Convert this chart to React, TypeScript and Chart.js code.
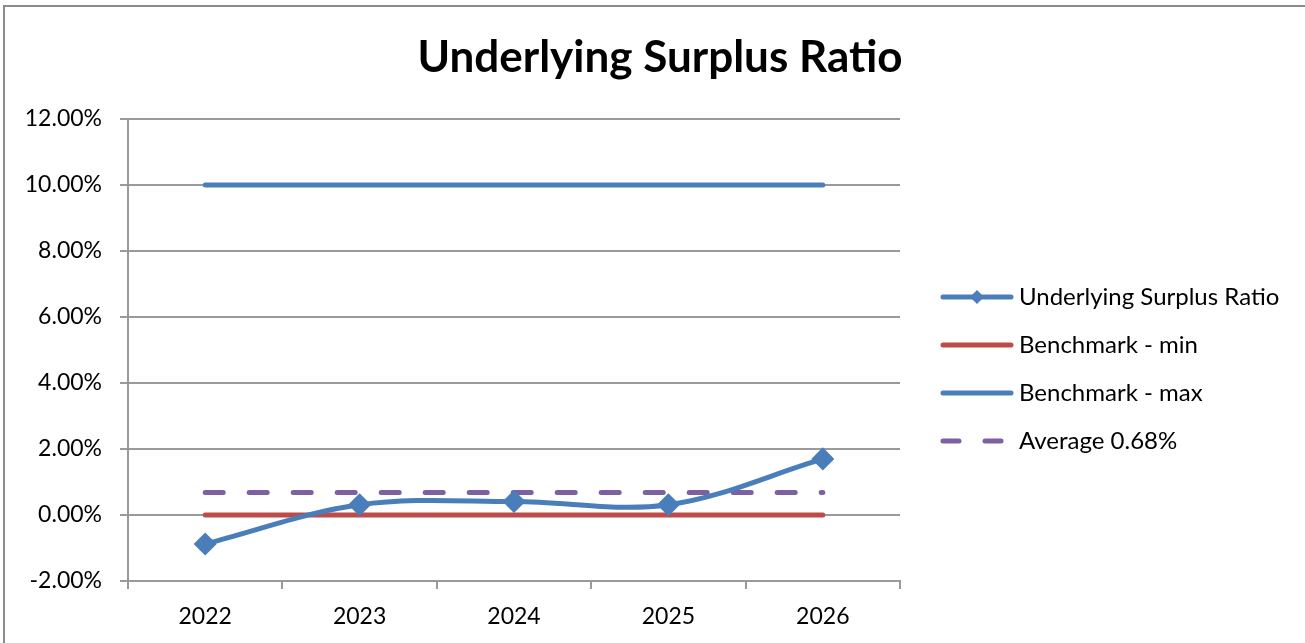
import { useEffect, useRef } from "react";
import { Chart, registerables } from "chart.js";

Chart.register(...registerables);

// Fiscal years on the category axis
const years = ["2022", "2023", "2024", "2025", "2026"];
// Underlying surplus ratio, in percent
const surplusRatio = [-0.88, 0.31, 0.41, 0.31, 1.7];
// Benchmark band, in percent
const benchmarkMin = [0, 0, 0, 0, 0];
const benchmarkMax = [10, 10, 10, 10, 10];
// Reported average, in percent
const averageValue = 0.68;
const averageLine = years.map(() => averageValue);
// Value axis range and step, in percent
const yMin = -2;
const yMax = 12;
const yStep = 2;

const FONT = "Lato, 'Liberation Sans', sans-serif";
const GRID = "#9a9a9a";

const titleText = "Underlying Surplus Ratio";

// Draws the chart title and the legend on the right side
const decorations = {
  id: "decorations",
  afterDraw(chart: any) {
    const ctx = chart.ctx as CanvasRenderingContext2D;
    ctx.save();
    ctx.fillStyle = "#000";
    ctx.font = `bold 44px ${FONT}`;
    ctx.textAlign = "center";
    ctx.textBaseline = "middle";
    ctx.fillText(titleText, 660, 58);

    const x0 = 943;
    const x1 = 1011;
    chart.data.datasets.forEach((ds: any, i: number) => {
      const y = 297 + i * 48;
      ctx.save();
      ctx.strokeStyle = ds.borderColor;
      ctx.lineWidth = 5;
      ctx.lineCap = "round";
      if (ds.borderDash && ds.borderDash.length) ctx.setLineDash([16, 26]);
      ctx.beginPath();
      ctx.moveTo(x0, y);
      ctx.lineTo(x1, y);
      ctx.stroke();
      if (ds.pointStyle === "rectRot") {
        const r = 7;
        const cx = (x0 + x1) / 2;
        ctx.fillStyle = ds.pointBackgroundColor;
        ctx.beginPath();
        ctx.moveTo(cx, y - r);
        ctx.lineTo(cx + r, y);
        ctx.lineTo(cx, y + r);
        ctx.lineTo(cx - r, y);
        ctx.closePath();
        ctx.fill();
      }
      ctx.restore();
      ctx.fillStyle = "#000";
      ctx.font = `24px ${FONT}`;
      ctx.textAlign = "left";
      ctx.textBaseline = "middle";
      ctx.fillText(ds.label, 1019, y);
    });
    ctx.restore();
  },
};

export default function App() {
  const canvasRef = useRef<HTMLCanvasElement | null>(null);

  useEffect(() => {
    if (!canvasRef.current) return;
    const chart = new Chart(canvasRef.current, {
      type: "line",
      data: {
        labels: years,
        datasets: [
          {
            label: "Underlying Surplus Ratio",
            data: surplusRatio,
            borderColor: "#4a7ebb",
            backgroundColor: "#4a7ebb",
            pointBackgroundColor: "#4a7ebb",
            pointBorderColor: "#4a7ebb",
            pointStyle: "rectRot",
            pointRadius: 8,
            borderWidth: 5,
            tension: 0.35,
          },
          {
            label: "Benchmark - min",
            data: benchmarkMin,
            borderColor: "#be4b48",
            backgroundColor: "#be4b48",
            pointRadius: 0,
            borderWidth: 5,
            borderCapStyle: "round",
          },
          {
            label: "Benchmark - max",
            data: benchmarkMax,
            borderColor: "#4a7ebb",
            backgroundColor: "#4a7ebb",
            pointRadius: 0,
            borderWidth: 5,
            borderCapStyle: "round",
          },
          {
            label: `Average ${averageValue.toFixed(2)}%`,
            data: averageLine,
            borderColor: "#7d60a0",
            backgroundColor: "#7d60a0",
            pointRadius: 0,
            borderWidth: 5,
            borderCapStyle: "round",
            borderDash: [18, 26],
          },
        ],
      },
      options: {
        animation: false,
        responsive: false,
        layout: { padding: { left: 0, right: 405, top: 119, bottom: 0 } },
        plugins: {
          legend: { display: false },
          title: { display: false },
          tooltip: { enabled: false },
        },
        scales: {
          x: {
            offset: true,
            grid: {
              offset: true,
              drawOnChartArea: false,
              drawTicks: true,
              tickLength: 8,
              color: GRID,
              lineWidth: 2,
            },
            border: { color: GRID, width: 2 },
            ticks: {
              color: "#000",
              padding: 14,
              font: { family: FONT, size: 23 },
            },
            afterFit(scale: any) {
              scale.height = 62;
            },
          },
          y: {
            min: yMin,
            max: yMax,
            ticks: {
              stepSize: yStep,
              color: "#000",
              padding: 18,
              font: { family: FONT, size: 23 },
              callback: (v: any) => `${Number(v).toFixed(2)}%`,
            },
            grid: { color: GRID, lineWidth: 2, tickLength: 8 },
            border: { color: GRID, width: 2 },
            afterFit(scale: any) {
              scale.width = 128;
            },
          },
        },
      },
      plugins: [decorations],
    });
    return () => chart.destroy();
  }, []);

  return (
    <div style={{ position: "fixed", left: 0, top: 0, width: 1305, height: 643, background: "#fff", overflow: "hidden" }}>
      <div
        style={{
          position: "absolute",
          left: 3,
          top: 5,
          width: 1400,
          height: 700,
          border: "2px solid #8c8c8c",
        }}
      />
      <canvas ref={canvasRef} width={1305} height={643} style={{ position: "absolute", left: 0, top: 0 }} />
    </div>
  );
}
